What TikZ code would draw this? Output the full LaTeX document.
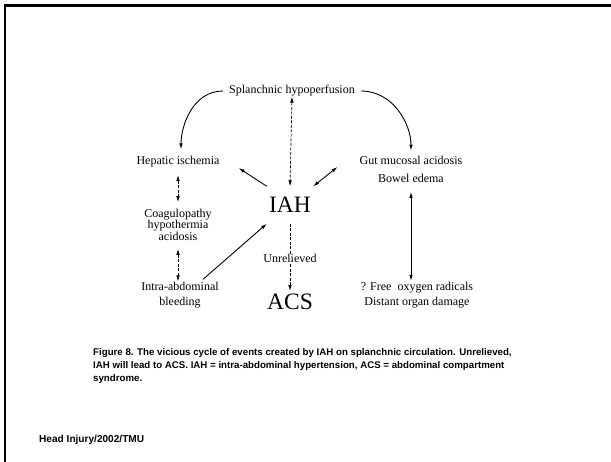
\documentclass[tikz,border=0pt]{standalone}
\usepackage{fontspec}
\setmainfont{Liberation Serif}
\setsansfont{Liberation Sans}
\usetikzlibrary{arrows.meta, positioning}

\begin{document}
\begin{tikzpicture}[
        x=1pt, y=-1pt,
        term/.style={inner sep=0pt, align=center, font=\fontsize{12}{15}\selectfont},
        big/.style={inner sep=0pt, font=\fontsize{23.5}{24}\selectfont},
        arrow/.style={-{Latex[length=6pt, width=3.6pt]}, line width=0.9pt},
        dblarrow/.style={{Latex[length=6pt, width=3.6pt]}-{Latex[length=6pt, width=3.6pt]}, line width=0.9pt},
        broken/.style={line width=0.7pt, dash pattern=on 3pt off 1.5pt}
    ]
        \useasboundingbox (0,0) rectangle (611,462);

        % Page frame (top and left edge)
        \draw[line width=3pt] (4,6) -- (611,6);
        \draw[line width=2pt] (5,5) -- (5,462);

        % Cycle terms
        \node[term, inner xsep=6pt] (splanch) at (292,91) {Splanchnic hypoperfusion};
        \node[term] (hepatic) at (178,162) {Hepatic ischemia};
        \node[term] (gut) at (411,169) {Gut mucosal acidosis\\[3pt]Bowel edema};
        \node[term, font=\fontsize{12}{11.5}\selectfont] (coag) at (178,224.5) {Coagulopathy\\hypothermia\\acidosis};
        \node[term] (bleed) at (180,295.5) {Intra-abdominal\\bleeding};
        \node[term] (free) at (417,295.5) {? Free\enspace oxygen radicals\\Distant organ damage};
        \node[big, minimum width=46pt, minimum height=37pt] (iah) at (290,205) {IAH};
        \node[big] (acs) at (290,302) {ACS};

        % Splanchnic branches
        \draw[arrow, shorten >=7pt] (splanch.west) to[out=180, in=90] ([xshift=3pt]hepatic.north);
        \draw[arrow, shorten >=5pt] (splanch.east) to[out=0, in=90] (gut.north);
        \draw[dblarrow, broken] (splanch.south) -- (iah.north);

        % Around IAH
        \draw[arrow] (iah.north west) -- ([shift={(19,6)}]hepatic.east);
        \draw[dblarrow] (iah.north east) -- ([shift={(-22,-2)}]gut.west);
        \draw[arrow] ([shift={(23,-3)}]bleed.north) -- (iah.south west);
        \draw[arrow, broken, shorten >=3pt] (iah.south) -- node[term, fill=white, inner sep=1pt] (unrel) {Unrelieved} (acs.north);

        % Left column
        \draw[dblarrow, broken, shorten <=7.5pt, shorten >=6.5pt] (hepatic.south) -- (coag.north);
        \draw[dblarrow, broken, shorten <=8.5pt, shorten >=1pt] (coag.south) -- (coag.south |- bleed.north);

        % Right column
        \draw[dblarrow, shorten <=9.5pt, shorten >=1.5pt] (gut.south) -- (gut.south |- free.north);

        % Caption and source
        \node[anchor=north west, inner sep=0pt, align=left, font=\sffamily\bfseries\fontsize{9.7}{13}\selectfont] (caption) at (93,348.5)
            {Figure 8. The vicious cycle of events created by IAH on splanchnic circulation. Unrelieved,\\
             IAH will lead to ACS. IAH = intra-abdominal hypertension, ACS = abdominal compartment\\
             syndrome.};
        \node[anchor=west, inner sep=0pt, font=\sffamily\bfseries\fontsize{10.1}{12}\selectfont] (source) at (39,440) {Head Injury/2002/TMU};
    \end{tikzpicture}
\end{document}
